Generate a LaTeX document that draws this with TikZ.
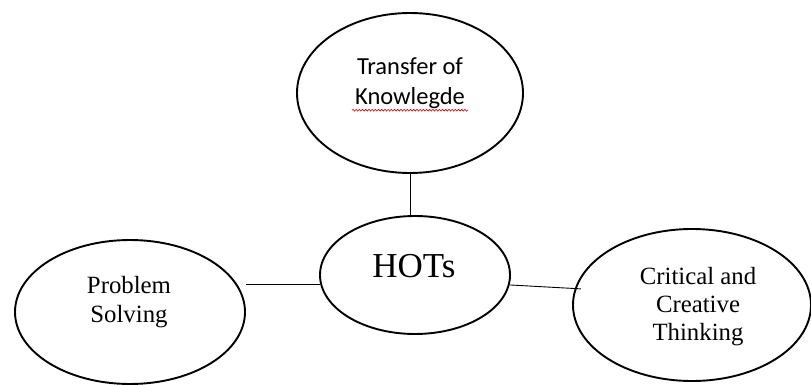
\documentclass[tikz,border=0pt]{standalone}
\usepackage{fontspec}
\setmainfont{Liberation Serif}
\newfontfamily\calib{Carlito}
\usetikzlibrary{shapes.geometric,decorations.pathmorphing}
\tikzset{
  bubble/.style={ellipse, draw=black, line width=1.9pt, inner sep=0pt},
  link/.style={draw=black, line width=0.9pt},
  serifText/.style={align=center, inner sep=0pt, font=\fontsize{24.8}{29}\selectfont},
  spellmark/.style={draw=red!85!black, line width=0.6pt, decorate,
    decoration={snake, amplitude=0.9pt, segment length=3.2pt}}
}
\begin{document}
\begin{tikzpicture}[x=1pt, y=-1pt]
  \useasboundingbox (0,0) rectangle (811,385);
  % the four ellipses
  \node[bubble, minimum width=226pt, minimum height=160pt] (t) at (410,93) {};
  \node[bubble, minimum width=190pt, minimum height=118pt] (h) at (415,275) {};
  \node[bubble, minimum width=230pt, minimum height=144pt] (p) at (130,312) {};
  \node[bubble, minimum width=238pt, minimum height=152pt] (c) at (692,305) {};
  % their texts
  \node[align=center, inner sep=0pt, font=\calib\fontsize{24.5}{30}\selectfont] (tl) at (410,83.5) {Transfer of\\Knowlegde};
  \node[inner sep=0pt, font=\fontsize{35}{40}\selectfont] (hl) at (414,266.5) {HOTs};
  \node[serifText] (pl) at (129,302.5) {Problem\\Solving};
  \node[serifText, font=\fontsize{24.8}{28}\selectfont] (cl) at (698,307) {Critical and\\Creative\\Thinking};
  % wavy red underline below the second word
  \path (tl.south west) ++(-3,1) coordinate (u1);
  \path (tl.south east) ++(3,1) coordinate (u2);
  \draw[spellmark] (u1) -- (u2);
  % connectors
  \draw[link] (t.south) -- (t.south |- h.north);
  \coordinate (pe) at (p.east |- h.186);
  \draw[link] (pe) -- (h.186);
  \draw[link, shorten >=-6pt] (h.-6) -- (c.172);
\end{tikzpicture}
\end{document}
